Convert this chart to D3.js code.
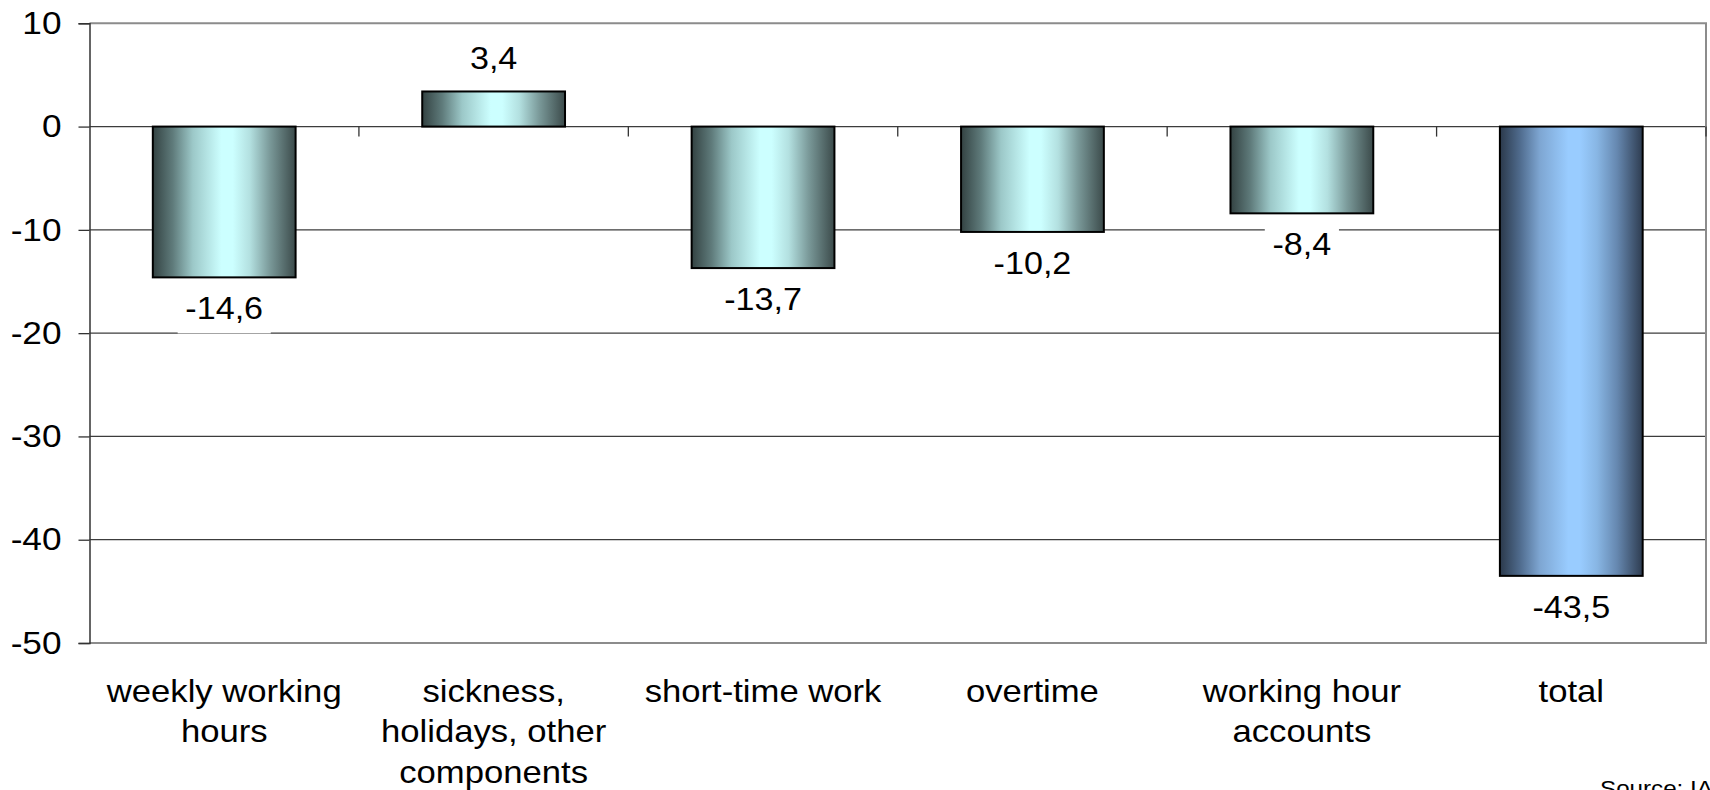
<!DOCTYPE html>
<html>
<head>
<meta charset="utf-8">
<script src="https://cdn.jsdelivr.net/npm/d3@7"></script>
<style>
  body { margin: 0; background: #fff; }
  text { font-family: Arial, "Liberation Sans", sans-serif; fill: #000; }
</style>
</head>
<body>
<div id="chart"></div>
<script>
// data
const categories = [
    ["weekly working", "hours"],
    ["sickness,", "holidays, other", "components"],
    ["short-time work"],
    ["overtime"],
    ["working hour", "accounts"],
    ["total"]
]
const values = [-14.6, 3.4, -13.7, -10.2, -8.4, -43.5]
const yTicks = [10, 0, -10, -20, -30, -40, -50]
const sourceText = "Source: IAB"

const W = 1710, H = 790
const m = {t: 23.3, r: 4, b: 147, l: 89.5}
const w = W - m.l - m.r, h = H - m.t - m.b
const sx = 1.1 // the original chart text is stretched a little sideways

const svg = d3.select("#chart").append("svg")
    .attr("width", W).attr("height", H)

// gradients for the bars (dark edges, light centre)
const defs = svg.append("defs")
function grad(id, stops) {
    const g = defs.append("linearGradient").attr("id", id)
        .attr("x1", "0%").attr("x2", "100%").attr("y1", "0%").attr("y2", "0%")
    stops.forEach(s => g.append("stop").attr("offset", s[0]).attr("stop-color", s[1]))
}
grad("teal", [[0, "#334242"], [0.14, "#5f7b7b"], [0.28, "#9cc8c8"], [0.48, "#ccffff"],
              [0.56, "#ccffff"], [0.68, "#b3e0e0"], [0.82, "#7a9999"], [1, "#3b4a4a"]])
grad("blue", [[0, "#2b394b"], [0.14, "#4f6b8d"], [0.28, "#7ea6d2"], [0.48, "#99ccff"],
              [0.56, "#99ccff"], [0.68, "#88b6e4"], [0.82, "#6688b0"], [1, "#2e3c50"]])

const g = svg.append("g").attr("transform", "translate(" + m.l + "," + m.t + ")")

const x = d3.scaleBand().domain(d3.range(values.length)).range([0, w]).padding(0)
const y = d3.scaleLinear().domain([-50, 10]).range([h, 0])
const barW = x.bandwidth() * 0.53

// gridlines
g.append("g").selectAll("line").data(yTicks.filter(t => t > -50 && t < 10)).enter()
    .append("line")
    .attr("x1", 0).attr("x2", w)
    .attr("y1", d => y(d)).attr("y2", d => y(d))
    .attr("stroke", "#3c3c3c").attr("stroke-width", 1.3)

// plot frame (top, right, bottom)
g.append("path")
    .attr("d", "M0," + y(10) + "H" + w + "V" + y(-50) + "H0")
    .attr("fill", "none").attr("stroke", "#8c8c8c").attr("stroke-width", 2)

// y axis, plain hyphen for negatives like the original
const yAxis = g.append("g")
    .call(d3.axisLeft(y).tickValues(yTicks).tickSize(11).tickPadding(0).tickFormat(d => String(d)))
yAxis.select(".domain").attr("stroke", "#333").attr("stroke-width", 1.5)
yAxis.selectAll(".tick line").attr("stroke", "#333").attr("stroke-width", 1.3)
yAxis.selectAll(".tick text")
    .attr("x", 0)
    .attr("transform", "translate(-28,0) scale(" + sx + ",1)")
    .style("font-size", "32px").style("font-family", "Arial, 'Liberation Sans', sans-serif")
    .attr("fill", "#000")

// category ticks on the zero line
g.append("g").selectAll("line").data(d3.range(1, values.length + 1)).enter()
    .append("line")
    .attr("x1", d => d * x.step()).attr("x2", d => d * x.step())
    .attr("y1", y(0)).attr("y2", y(0) + 10)
    .attr("stroke", "#333").attr("stroke-width", 1.3)

// bars
g.append("g").selectAll("rect").data(values).enter()
    .append("rect")
    .attr("x", (d, i) => x(i) + x.bandwidth() / 2 - barW / 2)
    .attr("y", d => y(Math.max(0, d)))
    .attr("width", barW)
    .attr("height", d => Math.abs(y(d) - y(0)))
    .attr("fill", (d, i) => i === values.length - 1 ? "url(#blue)" : "url(#teal)")
    .attr("stroke", "#000").attr("stroke-width", 2)

// value labels with white boxes behind them
const fmt = v => d3.format(".1f")(v).replace(".", ",").replace("−", "-")
const labels = g.append("g").selectAll("g").data(values).enter().append("g")
    .attr("transform", (d, i) => "translate(" + (x(i) + x.bandwidth() / 2) + "," +
        (d >= 0 ? y(d) - 22 : y(d) + 42) + ") scale(" + sx + ",1)")
labels.append("text")
    .attr("text-anchor", "middle")
    .style("font-size", "31px")
    .text(fmt)
    .each(function() {
        const b = this.getBBox()
        d3.select(this.parentNode).insert("rect", "text")
            .attr("x", b.x - 7).attr("y", -30)
            .attr("width", b.width + 14).attr("height", 44)
            .attr("fill", "#fff")
    })

// category labels
const cat = g.append("g").selectAll("g").data(categories).enter()
    .append("g")
    .attr("transform", (d, i) => "translate(" + (x(i) + x.bandwidth() / 2) + "," +
        (702 - m.t) + ") scale(" + sx + ",1)")
    .append("text")
    .attr("text-anchor", "middle")
    .style("font-size", "31.5px")
cat.selectAll("tspan").data(d => d).enter()
    .append("tspan")
    .attr("x", 0)
    .attr("dy", (d, i) => i === 0 ? 0 : 40.5)
    .text(d => d)

// source note, cut off at the page edge like the original
svg.append("text")
    .attr("transform", "translate(1600,796) scale(" + sx + ",1)")
    .style("font-size", "22px")
    .text(sourceText)
</script>
</body>
</html>
